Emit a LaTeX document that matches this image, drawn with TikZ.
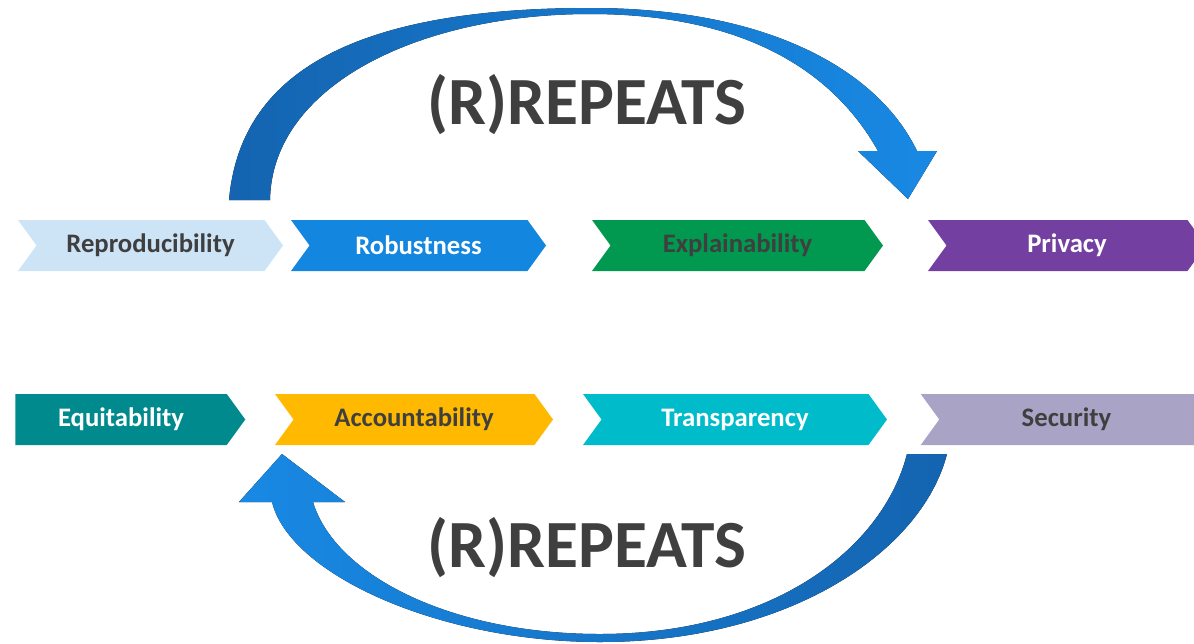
\documentclass[tikz,border=0pt]{standalone}
\usepackage{fontspec}
\setmainfont{Carlito}
\usetikzlibrary{shapes.symbols}
\definecolor{textgray}{HTML}{3F3F3F}
\definecolor{reprofill}{HTML}{CDE4F6}
\definecolor{robustfill}{HTML}{1386E0}
\definecolor{explainfill}{HTML}{00994F}
\definecolor{privacyfill}{HTML}{7340A1}
\definecolor{equitfill}{HTML}{008A8E}
\definecolor{accountfill}{HTML}{FFB900}
\definecolor{transpfill}{HTML}{00BCCB}
\definecolor{securityfill}{HTML}{A9A3C6}
\definecolor{arcdark}{HTML}{1464B0}
\definecolor{arclight}{HTML}{1889E4}

\begin{document}
\begin{tikzpicture}[x=0.25mm,y=-0.25mm]
  \tikzset{chevron/.style = {shape=signal,signal to=east,signal from=west,signal pointer angle=108,minimum height=51*0.25mm,inner sep=0pt,font=\fontsize{19}{19}\selectfont\bfseries}}
  \tikzset{darktext/.style = {text=textgray}}
  \tikzset{lighttext/.style = {text=white}}
  \tikzset{repeats/.style = {font=\fontsize{48}{48}\selectfont\bfseries,text=textgray}}

  \useasboundingbox (0,0) rectangle (1194,643);

  % upper loop
  \fill[left color=arcdark,right color=arclight] (229,200) .. controls (240,75) and (350,8) .. (590,8) .. controls (775,8) and (880,74) .. (917,151) -- (937,151) -- (908,199) -- (858,151) -- (878,151) .. controls (840,83) and (760,14) .. (590,14) .. controls (420,14) and (272,85) .. (270,200) -- cycle;
  % lower loop
  \fill[left color=arclight,right color=arcdark] (272,502) .. controls (290,575) and (440,642) .. (600,642) .. controls (790,642) and (922,551) .. (947,454) -- (907,454) .. controls (882,551) and (770,634) .. (600,634) .. controls (450,634) and (335,575) .. (313,502) -- (345,502) -- (282,454) -- (239,502) -- cycle;

  \node[repeats] (RTop) at (587,105) {(R)REPEATS};
  \node[repeats] (RBot) at (587,548) {(R)REPEATS};

  \node[chevron,fill=reprofill,darktext,minimum width=265*0.25mm] (Repro) at (150.5,245.5) {Reproducibility};
  \node[chevron,fill=robustfill,lighttext,minimum width=255*0.25mm] (Robust) at (418.5,245.5) {Robustness};
  \node[chevron,fill=explainfill,darktext,minimum width=291*0.25mm] (Explain) at (737.5,245.5) {Explainability};
  \node[chevron,fill=privacyfill,lighttext,minimum width=278*0.25mm] (Privacy) at (1067,245.5) {Privacy};

  \node[chevron,signal from=nowhere,fill=equitfill,lighttext,minimum width=230*0.25mm] (Equit) at (121,419.5) {Equitability};
  \node[chevron,fill=accountfill,darktext,minimum width=278*0.25mm] (Account) at (414,419.5) {Accountability};
  \node[chevron,fill=transpfill,lighttext,minimum width=304*0.25mm] (Transp) at (735,419.5) {Transparency};
  \node[chevron,signal to=nowhere,fill=securityfill,darktext,minimum width=273*0.25mm] (Security) at (1066.5,419.5) {Security};
\end{tikzpicture}
\end{document}
